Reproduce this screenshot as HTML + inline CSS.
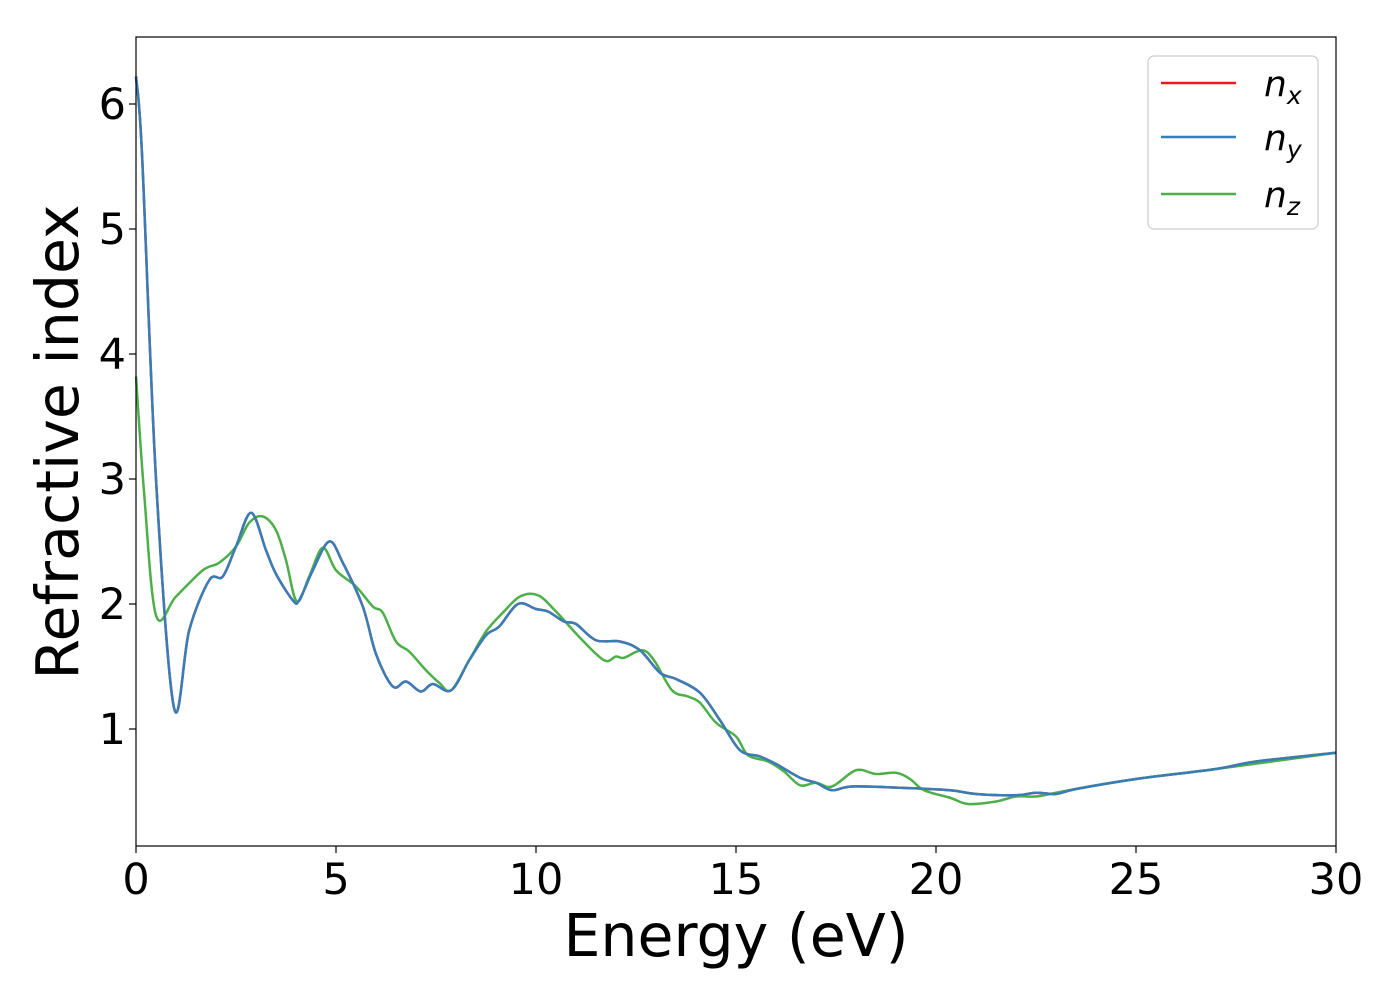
<!DOCTYPE html>
<html><head><meta charset="utf-8"><style>
body{margin:0;background:#fff;}
svg{font-family:"DejaVu Sans","Liberation Sans",sans-serif;}
</style></head><body>
<svg id="chart" width="1400" height="1000" viewBox="0 0 1400 1000" xmlns="http://www.w3.org/2000/svg">
<rect x="0" y="0" width="1400" height="1000" fill="#fff"/>
<g id="ticks"></g>
<g id="plot"></g>
<rect x="136" y="37" width="1200" height="809" fill="none" stroke="#000" stroke-width="1.2"/>
<text x="736" y="956" font-size="58.5" text-anchor="middle">Energy (eV)</text>
<text transform="translate(78,442) rotate(-90)" font-size="58.5" text-anchor="middle">Refractive index</text>
<g>
<rect x="1148" y="56" width="170" height="173" rx="6" fill="#fff" stroke="#ccc" stroke-width="1.2"/>
<line x1="1161" y1="83" x2="1236" y2="83" stroke="#e41a1c" stroke-width="2.5"/>
<text x="1264" y="96" font-size="36" font-style="italic">n<tspan font-size="25" dy="8">x</tspan></text>
<line x1="1161" y1="137" x2="1236" y2="137" stroke="#377eb8" stroke-width="2.5"/>
<text x="1264" y="150" font-size="36" font-style="italic">n<tspan font-size="25" dy="8">y</tspan></text>
<line x1="1161" y1="194" x2="1236" y2="194" stroke="#4daf4a" stroke-width="2.5"/>
<text x="1264" y="207" font-size="36" font-style="italic">n<tspan font-size="25" dy="8">z</tspan></text>
</g>
</svg>
<script>
const xTicks=[0,5,10,15,20,25,30];
const yTicks=[1,2,3,4,5,6];
const energyXY=[0,0.15,0.5,0.95,1.33,1.83,2.17,2.5,2.88,3.25,3.5,3.92,4.08,4.42,4.83,5.17,5.67,6,6.42,6.75,7.12,7.42,7.88,8.33,8.75,9.08,9.55,10,10.3,10.7,11,11.5,12.1,12.6,13.1,13.5,14.1,14.6,15.1,15.6,16,16.6,17,17.4,17.9,19.1,20.35,21,22,22.5,23,23.5,25,27,28,30];
const nxy=[6.22,5.6,3.0,1.17,1.79,2.19,2.22,2.46,2.73,2.43,2.24,2.03,2.03,2.27,2.5,2.33,1.98,1.6,1.34,1.38,1.30,1.36,1.31,1.55,1.75,1.82,2.0,1.96,1.94,1.86,1.84,1.71,1.70,1.63,1.45,1.40,1.29,1.07,0.83,0.78,0.72,0.61,0.57,0.51,0.54,0.53,0.51,0.48,0.47,0.49,0.48,0.52,0.6,0.68,0.74,0.81];
const energyZ=[0,0.2,0.5,1.0,1.67,2.08,2.5,2.83,3.17,3.5,3.75,4.02,4.33,4.67,5.0,5.5,5.92,6.17,6.5,6.83,7.25,7.58,7.88,8.33,8.75,9.17,9.6,10.05,10.5,11.1,11.7,12.0,12.2,12.65,12.95,13.4,13.8,14.1,14.5,15.0,15.3,15.8,16.2,16.6,17.0,17.4,18.0,18.5,19.0,19.35,19.7,20.35,20.8,21.5,22,22.5,23,23.5,25,27,30];
const nz=[3.82,2.9,1.91,2.06,2.27,2.33,2.46,2.65,2.70,2.59,2.35,2.02,2.22,2.45,2.27,2.14,1.98,1.93,1.70,1.62,1.47,1.37,1.31,1.55,1.78,1.93,2.06,2.07,1.94,1.73,1.55,1.58,1.57,1.63,1.55,1.31,1.26,1.21,1.05,0.94,0.79,0.74,0.66,0.55,0.57,0.54,0.67,0.64,0.65,0.60,0.51,0.45,0.40,0.42,0.46,0.46,0.49,0.52,0.6,0.68,0.81];
const NS='http://www.w3.org/2000/svg';
const X=e=>136+e*40, Y=v=>854-v*125;
const ticks=document.getElementById('ticks'), plot=document.getElementById('plot');
function mk(tag,attrs,parent){const el=document.createElementNS(NS,tag);for(const k in attrs)el.setAttribute(k,attrs[k]);parent.appendChild(el);return el;}
xTicks.forEach(t=>{
  const l=mk('line',{x1:X(t),x2:X(t),y1:846,y2:853,stroke:'#000','stroke-width':1.2},ticks);
  
  
  const tx=mk('text',{x:X(t),y:894,'font-size':43,'text-anchor':'middle'},ticks);tx.textContent=t;
  
  
});
yTicks.forEach(t=>{
  const l=mk('line',{x1:129,x2:136,y1:Y(t),y2:Y(t),stroke:'#000','stroke-width':1.2},ticks);
  
  
  const tx=mk('text',{x:126,y:Y(t)+15,'font-size':43,'text-anchor':'end'},ticks);tx.textContent=t;
  
  
});
function pathD(xs,ys){
  const p=xs.map((e,i)=>[X(e),Y(ys[i])]);
  let d='M'+p[0][0]+','+p[0][1];
  for(let i=0;i<p.length-1;i++){
    const p0=p[Math.max(0,i-1)],p1=p[i],p2=p[i+1],p3=p[Math.min(p.length-1,i+2)];
    const c1=[p1[0]+(p2[0]-p0[0])/6,p1[1]+(p2[1]-p0[1])/6];
    const c2=[p2[0]-(p3[0]-p1[0])/6,p2[1]-(p3[1]-p1[1])/6];
    d+=' C'+c1[0]+','+c1[1]+' '+c2[0]+','+c2[1]+' '+p2[0]+','+p2[1];
  }
  return d;
}
const lx=mk('path',{d:pathD(energyXY,nxy),fill:'none',stroke:'#e41a1c','stroke-width':2.5},plot);


const lz=mk('path',{d:pathD(energyZ,nz),fill:'none',stroke:'#4daf4a','stroke-width':2.5},plot);


const ly=mk('path',{d:pathD(energyXY,nxy),fill:'none',stroke:'#377eb8','stroke-width':2.5},plot);


</script>
</body></html>
